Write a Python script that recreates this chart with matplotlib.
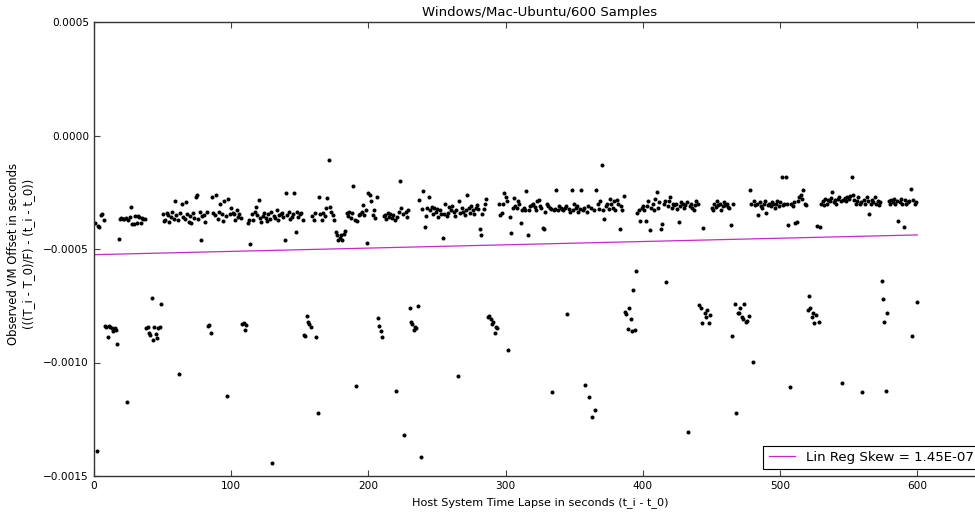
import matplotlib
matplotlib.use("Agg")
import matplotlib.pyplot as plt
import numpy as np
from matplotlib.ticker import FuncFormatter

# offsets in microseconds, one sample per second, 100 samples per list
offs_001_100 = [
    -385, -1390, -400, -402, -350, -346, -372, -840, -845, -887,
    -838, -842, -850, -860, -848, -855, -918, -456, -368, -362,
    -366, -370, -364, -1174, -372, -358, -314, -388, -390, -355,
    -386, -356, -360, -384, -362, -370, -368, -850, -843, -870,
    -880, -716, -900, -845, -875, -890, -848, -845, -742, -345,
    -378, -372, -340, -352, -380, -360, -338, -368, -290, -350,
    -372, -1050, -340, -300, -360, -370, -295, -345, -380, -355,
    -385, -340, -362, -270, -262, -370, -338, -460, -355, -350,
    -380, -335, -840, -835, -870, -270, -340, -350, -262, -370,
    -335, -300, -345, -375, -290, -355, -1148, -280, -345, -320,
]
offs_101_200 = [
    -340, -348, -372, -330, -358, -345, -365, -830, -826, -857,
    -835, -385, -372, -480, -346, -372, -336, -314, -350, -284,
    -365, -380, -355, -340, -362, -375, -345, -370, -336, -1443,
    -355, -365, -330, -372, -350, -345, -340, -360, -460, -255,
    -350, -336, -370, -358, -345, -255, -424, -335, -360, -345,
    -340, -372, -880, -882, -795, -820, -830, -845, -355, -372,
    -340, -887, -1223, -271, -346, -372, -340, -355, -320, -277,
    -108, -314, -336, -350, -372, -424, -439, -460, -450, -440,
    -462, -435, -420, -340, -355, -335, -365, -340, -221, -372,
    -1104, -378, -350, -345, -336, -306, -350, -330, -475, -255,
]
offs_201_300 = [
    -262, -290, -350, -330, -365, -270, -805, -840, -860, -887,
    -355, -350, -368, -340, -360, -345, -365, -350, -372, -1125,
    -360, -335, -200, -320, -345, -1320, -335, -360, -330, -760,
    -820, -830, -857, -845, -850, -751, -284, -1416, -325, -243,
    -404, -355, -320, -270, -330, -315, -345, -320, -335, -325,
    -360, -330, -345, -450, -345, -300, -355, -340, -315, -330,
    -310, -335, -355, -330, -1060, -290, -340, -320, -335, -350,
    -330, -262, -320, -340, -310, -330, -345, -320, -305, -325,
    -410, -437, -345, -325, -300, -280, -800, -795, -810, -830,
    -820, -870, -845, -850, -300, -350, -340, -300, -253, -270,
]
offs_301_400 = [
    -290, -945, -360, -428, -320, -275, -310, -320, -290, -300,
    -387, -330, -320, -330, -245, -440, -330, -310, -305, -300,
    -315, -330, -290, -285, -310, -320, -406, -410, -335, -300,
    -310, -320, -325, -1129, -330, -325, -240, -330, -310, -320,
    -325, -330, -320, -310, -786, -325, -335, -240, -330, -300,
    -320, -310, -335, -325, -240, -330, -320, -1100, -335, -310,
    -1150, -320, -1240, -330, -1210, -240, -300, -325, -290, -130,
    -330, -370, -310, -300, -325, -280, -300, -320, -290, -330,
    -285, -300, -410, -310, -330, -265, -778, -786, -852, -760,
    -808, -860, -680, -855, -597, -340, -330, -375, -320, -310,
]
offs_401_500 = [
    -330, -375, -310, -290, -415, -320, -300, -330, -280, -250,
    -320, -295, -410, -390, -300, -290, -645, -310, -290, -270,
    -320, -300, -305, -300, -325, -382, -310, -295, -300, -320,
    -305, -295, -1306, -310, -300, -320, -330, -305, -290, -300,
    -747, -760, -826, -409, -780, -800, -770, -826, -790, -320,
    -330, -300, -315, -290, -305, -300, -330, -310, -295, -305,
    -300, -315, -320, -394, -883, -300, -742, -1223, -780, -780,
    -760, -800, -810, -742, -822, -815, -795, -240, -300, -998,
    -290, -305, -300, -351, -295, -310, -320, -300, -290, -340,
    -305, -300, -310, -295, -300, -320, -300, -290, -310, -295,
]
offs_501_600 = [
    -181, -305, -300, -181, -300, -394, -1108, -300, -310, -295,
    -387, -380, -290, -270, -260, -280, -240, -300, -305, -770,
    -707, -760, -800, -780, -826, -790, -399, -820, -404, -300,
    -290, -305, -280, -300, -285, -290, -275, -247, -295, -285,
    -300, -280, -270, -290, -1090, -285, -275, -290, -270, -280,
    -265, -181, -260, -285, -300, -290, -270, -300, -295, -1129,
    -285, -300, -270, -290, -345, -300, -285, -295, -270, -300,
    -290, -305, -295, -641, -720, -822, -1125, -780, -290, -300,
    -285, -295, -280, -300, -290, -375, -295, -280, -300, -402,
    -285, -300, -295, -290, -236, -883, -285, -300, -295, -733,
]

skew = 1.45e-07          # slope of the regression line
intercept = -5.25e-04    # value of the regression line at t = 0
fit_range = [0, 600]

offsets = np.concatenate([offs_001_100, offs_101_200, offs_201_300,
                          offs_301_400, offs_401_500, offs_501_600]) * 1e-6
t = np.arange(1, len(offsets) + 1)

fig = plt.figure(figsize=(9.75, 5.14), dpi=100)
ax = fig.add_axes([94 / 975, 38 / 514, 892 / 975, 454 / 514])

ax.plot(t, offsets, 'o', color='k', ms=2.9, mec='k', mew=0)
fx = np.array(fit_range)
ax.plot(fx, intercept + skew * fx, color='#c828c8', lw=0.9,
        label='Lin Reg Skew = %.2E' % skew)

ax.set_xlim(0, 650)
ax.set_ylim(-0.0015, 0.0005)
ax.set_xticks(np.arange(0, 700, 100))
ax.set_yticks([-0.0015, -0.0010, -0.0005, 0.0000, 0.0005])
ax.yaxis.set_major_formatter(FuncFormatter(lambda v, p: ('%.4f' % v).replace('-', '\u2212')))
ax.tick_params(direction='in', length=4, width=0.8, labelsize=7.6, pad=3.6,
               top=True, right=True, color='#444444')
for s in ax.spines.values():
    s.set_color('#333333')
    s.set_linewidth(1.0)

ax.set_title('Windows/Mac-Ubuntu/600 Samples', fontsize=9.5, pad=4)
ax.set_xlabel('Host System Time Lapse in seconds (t_i - t_0)', fontsize=8.1)
ax.set_ylabel('Observed VM Offset in seconds\n(((T_i - T_0)/F) - (t_i - t_0))', fontsize=8.4)
ax.xaxis.set_label_coords(0.5, -0.046)
ax.yaxis.set_label_coords(-0.066, 0.49)

leg = ax.legend(loc='lower right', fontsize=9.6, fancybox=False, framealpha=1,
                edgecolor='black', handlelength=2.0, borderaxespad=0.5)
leg.get_frame().set_linewidth(0.8)

fig.savefig('out.png', dpi=100)
